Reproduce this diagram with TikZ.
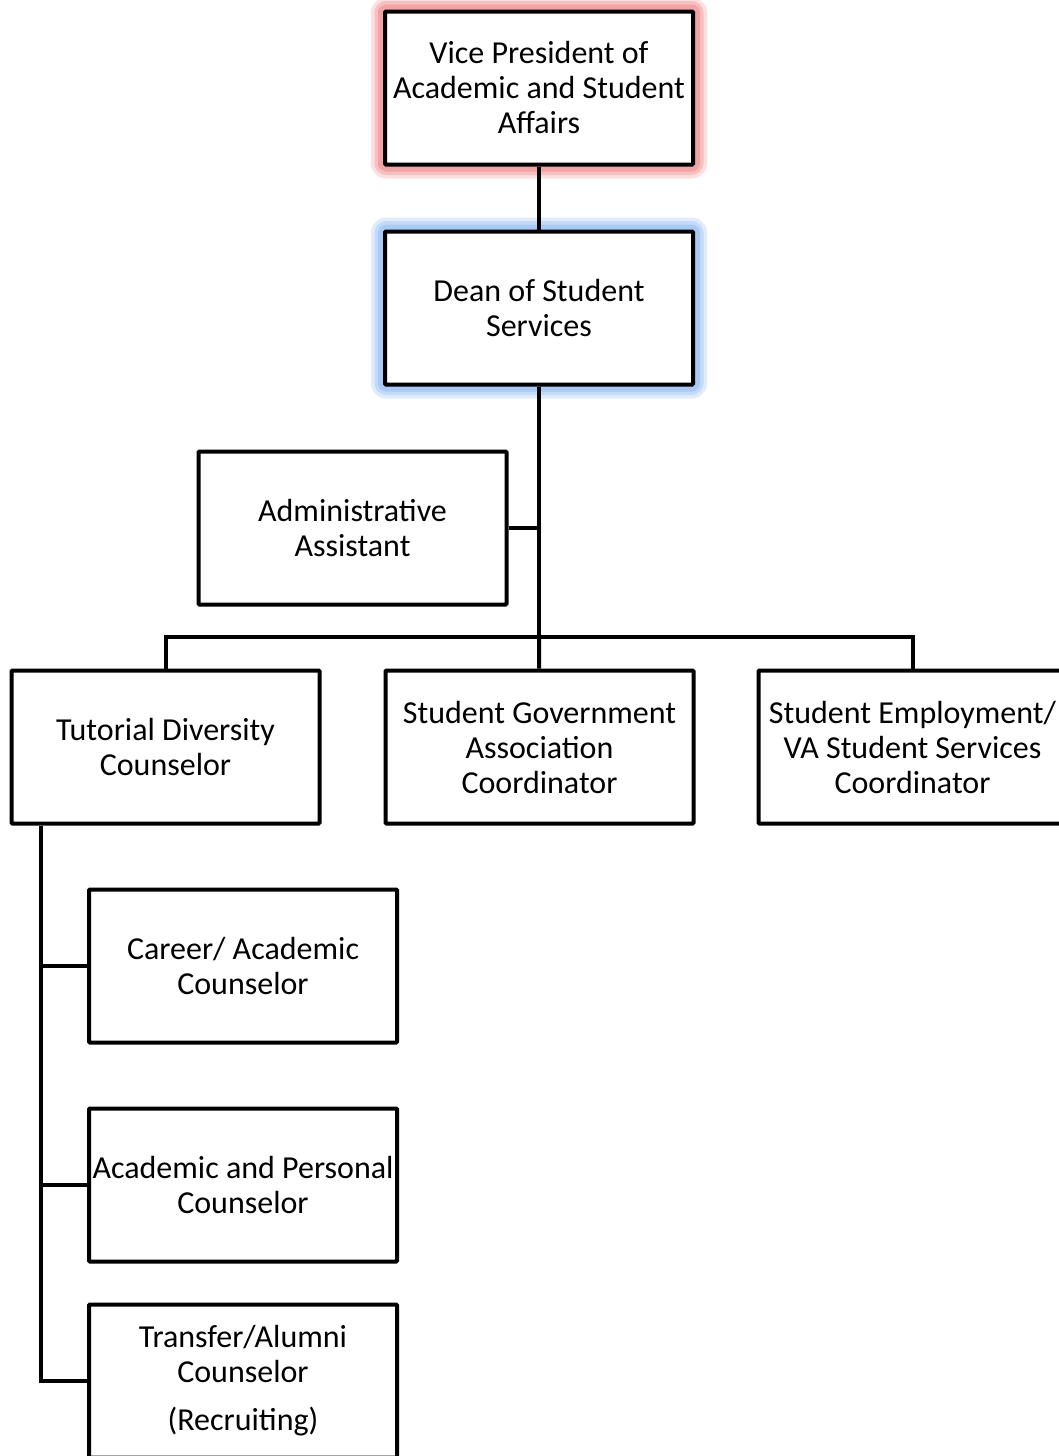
\documentclass[tikz,border=0pt]{standalone}
\usepackage{fontspec}
\setmainfont{Carlito}
\usepackage{tikz}
\definecolor{GlowR1}{RGB}{251,224,224}
\definecolor{GlowR2}{RGB}{246,192,192}
\definecolor{GlowR3}{RGB}{242,164,164}
\definecolor{GlowB1}{RGB}{224,236,252}
\definecolor{GlowB2}{RGB}{196,219,248}
\definecolor{GlowB3}{RGB}{170,202,244}
\usetikzlibrary{positioning}

\tikzset{
    post/.style={draw=black, fill=white, line width=4pt, rounded corners=1pt,
                 minimum width=308pt, minimum height=153pt, inner sep=0pt,
                 align=center, font=\fontsize{32}{35}\selectfont},
    glowred/.style={preaction={draw=GlowR1, line width=28pt, line join=round},
                    preaction={draw=GlowR2, line width=21pt, line join=round},
                    preaction={draw=GlowR3, line width=14pt, line join=round}},
    glowblue/.style={preaction={draw=GlowB1, line width=28pt, line join=round},
                     preaction={draw=GlowB2, line width=21pt, line join=round},
                     preaction={draw=GlowB3, line width=14pt, line join=round}},
    link/.style={draw=black, line width=4pt}
}

\begin{document}
\begin{tikzpicture}[x=1pt, y=-1pt]
    \useasboundingbox (0,0) rectangle (1058,1456);
    % top of the chart
    \node [post, glowred] (vp) at (539,88)
            {Vice President of\\Academic and Student\\Affairs};
    \node [post, glowblue] (dean) at (539,308) {Dean of Student\\Services};
    \node [post] (admin) at (352.5,528) {Administrative\\Assistant};
    % second row
    \node [post] (tut) at (165.5,747) {Tutorial Diversity\\Counselor};
    \node [post] (sga) at (539.5,747)
            {Student Government\\Association\\Coordinator};
    \node [post] (se) at (912.5,747)
            {Student Employment/\\VA Student Services\\Coordinator};
    % counselors under tutorial
    \node [post] (car) at (243,966) {Career/ Academic\\Counselor};
    \node [post] (ap) at (243,1185) {Academic and Personal\\Counselor};
    \node [post] (tra) at (243,1381)
            {Transfer/Alumni\\Counselor\\[13pt](Recruiting)};

    \coordinate (bus) at (539,637);
    \coordinate (spine) at ([xshift=31pt]tut.south west);

    \draw [link] (vp) -- (dean);
    \draw [link] (dean) -- (bus);
    \draw [link] (admin.east) -- (admin.east -| bus);
    \draw [link] (tut.north) |- (bus) -| (se.north);
    \draw [link] (bus) -- (sga);
    \draw [link] (spine) |- (tra.west);
    \draw [link] (spine |- car.west) -- (car.west);
    \draw [link] (spine |- ap.west) -- (ap.west);
\end{tikzpicture}
\end{document}
